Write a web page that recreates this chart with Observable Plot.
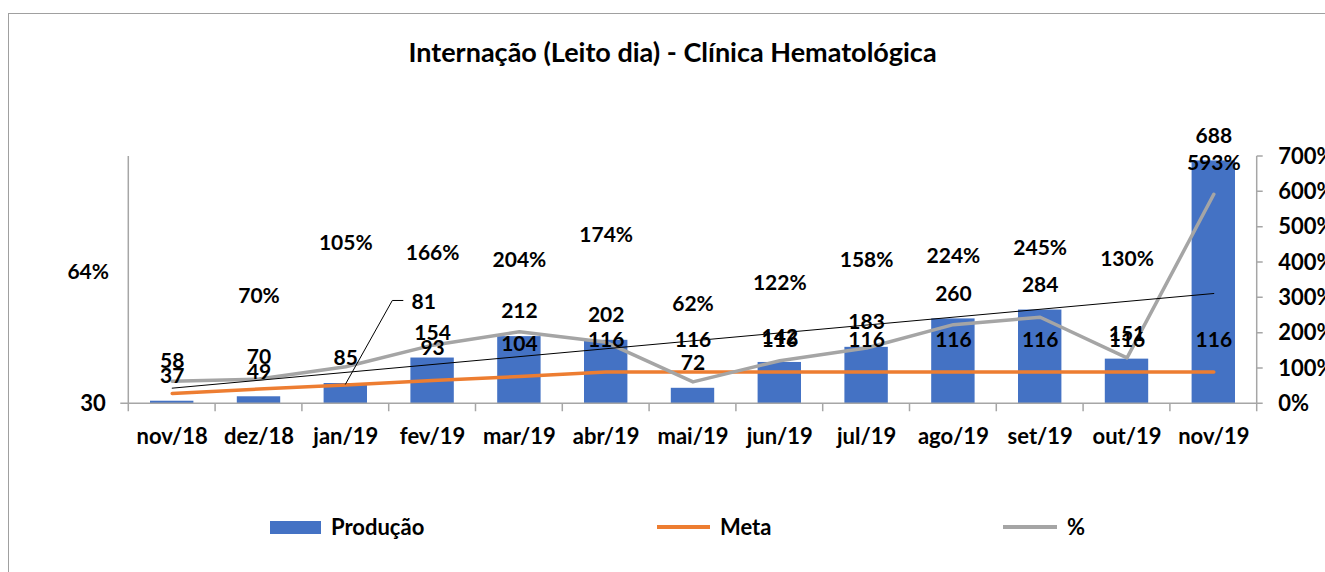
<!DOCTYPE html>
<html><head><meta charset="utf-8">
<script src="https://cdn.jsdelivr.net/npm/d3@7"></script>
<script src="https://cdn.jsdelivr.net/npm/@observablehq/plot@0.6"></script>
<style>
html,body{margin:0;padding:0;background:#fff;}
#wrap{position:relative;width:1325px;height:572px;overflow:hidden;font-family:Lato,sans-serif;font-weight:700;color:#000;}
#border{position:absolute;left:8px;top:13px;width:1400px;height:700px;border-left:1.5px solid #a0a0a0;border-top:1.5px solid #a0a0a0;}
#title{position:absolute;left:0;width:1345px;top:35px;text-align:center;font-size:27px;line-height:34px;}
#chart{position:absolute;left:0;top:100px;}
.lab{position:absolute;top:514px;font-size:22px;line-height:26px;white-space:nowrap;}
.sw{position:absolute;}
</style></head>
<body>
<div id="wrap">
  <div id="border"></div>
  <div id="title">Internação (Leito dia) - Clínica Hematológica</div>
  <div id="chart"></div>
  <div class="sw" style="left:270px;top:521px;width:51px;height:13px;background:#4472C4"></div>
  <div class="lab" style="left:331px">Produção</div>
  <div class="sw" style="left:657px;top:525px;width:53px;height:4px;background:#ED7D31"></div>
  <div class="lab" style="left:720px">Meta</div>
  <div class="sw" style="left:1003px;top:525px;width:54px;height:4px;background:#A5A5A5"></div>
  <div class="lab" style="left:1067px">%</div>
</div>
<script>
const months = ["nov/18","dez/18","jan/19","fev/19","mar/19","abr/19","mai/19","jun/19","jul/19","ago/19","set/19","out/19","nov/19"];
const producao = [37,49,85,154,212,202,72,142,183,260,284,151,688];
const meta = [58,70,81,93,104,116,116,116,116,116,116,116,116];
const pct = [64,70,105,166,204,174,62,122,158,224,245,130,593];
const pctTicks = [0,100,200,300,400,500,600,700];
const leftTicks = [30];
// vertical level (on the % axis) where each % data label was placed in the original
const pctLabelLevel = [373,305,453,426,406,476,281,340,406,418,439,408,682];

const rows = months.map((m,i)=>({mes:m, prod:producao[i], meta:meta[i], pct:pct[i], lvl:pctLabelLevel[i], i}));

const W=1325, H=370, mT=56, mB=66.7, mL=128.3, mR=68.3;
const step = (W-mL-mR)/months.length;
const leftToY = d3.scaleLinear([30,700],[0,700]); // primary axis (30..700) onto the shared y scale

// linear trendline of the % series
const xs = rows.map(d=>d.i);
const mx = d3.mean(xs), my = d3.mean(pct);
const slope = d3.sum(xs,(x,k)=>(x-mx)*(pct[k]-my)) / d3.sum(xs,x=>(x-mx)**2);
const trend = [rows[0], rows[rows.length-1]].map(d=>({mes:d.mes, v: my + slope*(d.i-mx)}));

const T = {fontFamily:"Lato, sans-serif", fontWeight:"bold", fontSize:21, fill:"#000"};
const TA = {...T, fontSize:22};

function decor(index, scales){
  const x = scales.x, y = scales.y;
  const bw = x.bandwidth(), st = x.step();
  const off = (st-bw)/2;
  const y0 = y(0), yTop = y(700);
  const left = x(months[0]) - off, right = x(months[months.length-1]) + bw + off;
  const ns = "http://www.w3.org/2000/svg";
  const g = document.createElementNS(ns,"g");
  const add = (d, stroke, sw) => {
    const p = document.createElementNS(ns,"path");
    p.setAttribute("d", d); p.setAttribute("stroke", stroke);
    p.setAttribute("stroke-width", sw); p.setAttribute("fill","none");
    g.appendChild(p);
  };
  let d = `M${left},${yTop}V${y0}H${right}M${right},${yTop}V${y0}`;
  months.forEach(m=>{ d += `M${x(m)-off},${y0}v8`; });
  d += `M${right},${y0}v8`;
  leftTicks.forEach(t=>{ const yy=y(leftToY(t)); d += `M${left-8},${yy}H${left}`; });
  pctTicks.forEach(t=>{ d += `M${right},${y(t)}h6`; });
  add(d, "#a6a6a6", 1.5);
  return g;
}

function leader(index, scales){
  const x = scales.x, y = scales.y;
  const k = 2;
  const jx = x(months[k]) + x.bandwidth()/2, jy = y(leftToY(meta[k]));
  const ns = "http://www.w3.org/2000/svg";
  const p = document.createElementNS(ns,"path");
  p.setAttribute("d", `M${jx},${jy}L${jx+47},${jy-84}H${jx+58}`);
  p.setAttribute("stroke","#000"); p.setAttribute("stroke-width",1); p.setAttribute("fill","none");
  return p;
}

const plot = Plot.plot({
  width: W, height: H,
  marginTop: mT, marginBottom: mB, marginLeft: mL, marginRight: mR,
  x: {domain: months, paddingInner: 0.5, paddingOuter: 0.25, round: false, axis: null},
  y: {domain: [0,700], axis: null},
  style: {overflow: "visible", background: "transparent"},
  marks: [
    Plot.barY(rows, {x:"mes", y1: ()=>leftToY(30), y2: d=>leftToY(d.prod), fill:"#4472C4"}),
    decor,
    Plot.line(rows, {x:"mes", y: d=>leftToY(d.meta), stroke:"#ED7D31", strokeWidth:3.5}),
    Plot.line(rows, {x:"mes", y:"pct", stroke:"#A5A5A5", strokeWidth:3.5}),
    Plot.line(trend, {x:"mes", y:"v", stroke:"#000", strokeWidth:1}),
    leader,
    // production labels
    Plot.text(rows, {x:"mes", y: d=>leftToY(d.prod), text: d=>String(d.prod), dy:-25, ...T}),
    // meta labels
    Plot.text(rows.filter(d=>d.i!==2), {x:"mes", y: d=>leftToY(d.meta), text: d=>String(d.meta), dy:-32, ...T}),
    Plot.text(rows.filter(d=>d.i===2), {x:"mes", y: d=>leftToY(d.meta), text: d=>String(d.meta), dx:78, dy:-83, ...T}),
    // % labels
    Plot.text(rows.filter(d=>d.i!==0), {x:"mes", y:"lvl", text: d=>d.pct+"%", ...T}),
    Plot.text(rows.filter(d=>d.i===0), {x:"mes", y:"lvl", text: d=>d.pct+"%", dx:-84, ...T}),
    // x axis labels
    Plot.text(months, {x: d=>d, y: ()=>0, dy: 33, text: d=>d, ...TA}),
    // right axis labels
    Plot.text(pctTicks, {x: ()=>months[months.length-1], y: d=>d, dx: step/2 + 21, textAnchor:"start", text: d=>d+"%", ...TA}),
    // left axis label
    Plot.text(leftTicks, {x: ()=>months[0], y: d=>leftToY(d), dx: -step/2 - 23, textAnchor:"end", text: d=>String(d), ...TA})
  ]
});
document.getElementById("chart").appendChild(plot);
</script>
</body></html>
